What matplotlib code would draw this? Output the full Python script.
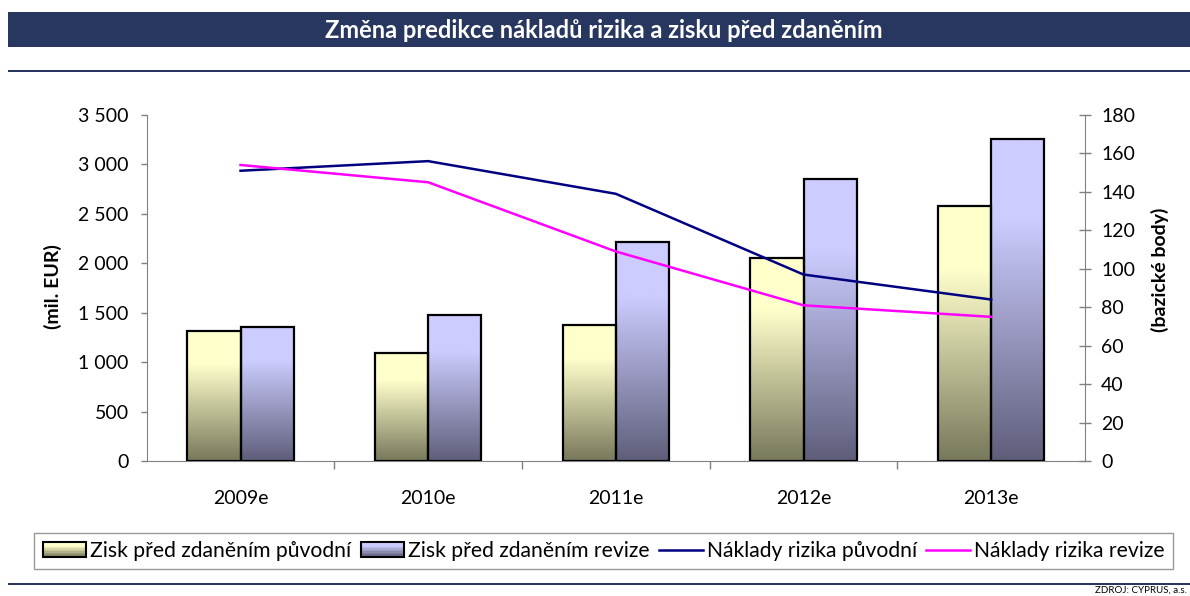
import matplotlib.pyplot as plt
import numpy as np
from matplotlib.colors import LinearSegmentedColormap, to_rgb
from matplotlib.patches import Rectangle, Patch
from matplotlib.lines import Line2D
from matplotlib.legend_handler import HandlerBase
from matplotlib.ticker import FuncFormatter, FixedLocator

plt.rcParams['font.family'] = ['Lato', 'DejaVu Sans']

years = ['2009e', '2010e', '2011e', '2012e', '2013e']
zisk_puvodni = [1310, 1090, 1380, 2050, 2580]   # mil. EUR
zisk_revize = [1360, 1480, 2220, 2850, 3260]
naklady_puvodni = [151, 156, 139, 97, 84]        # bazicke body
naklady_revize = [154, 145, 109, 81, 75]

yellow_top, yellow_bot = '#FFFFCC', '#78785B'
blue_top, blue_bot = '#CCCCFF', '#5E5E7A'
navy = '#27375F'
grey = '#808080'

fig = plt.figure(figsize=(11.9, 5.96), dpi=100)

# header band and separator lines
fig.patches.append(Rectangle((8/1190, 1 - 47/596), 1, 35/596, transform=fig.transFigure,
                             facecolor=navy, edgecolor='none'))
fig.patches.append(Rectangle((8/1190, 1 - 72/596), 1, 2.5/596, transform=fig.transFigure,
                             facecolor=navy, edgecolor='none'))
fig.patches.append(Rectangle((8/1190, 1 - 585/596), 1, 2.5/596, transform=fig.transFigure,
                             facecolor=navy, edgecolor='none'))
fig.text(604/1190, 1 - 30/596, 'Změna predikce nákladů rizika a zisku před zdaněním',
         color='white', fontsize=17, fontweight='bold', ha='center', va='center')

ax = fig.add_axes([146.7/1190, 135/596, 938.3/1190, 346/596])
ax2 = ax.twinx()

x = np.arange(len(years))
w = 0.283


def grad_cmap(top, bot):
    return LinearSegmentedColormap.from_list('g', [(0, bot), (0.75, top), (1, top)])


def gradient_bars(xs, vals, top, bot):
    bars = ax.bar(xs, vals, w, facecolor='none', edgecolor='black', linewidth=1.6, zorder=3)
    cmap = grad_cmap(top, bot)
    grad = np.linspace(0, 1, 256).reshape(-1, 1)
    for b in bars:
        x0, h = b.get_x(), b.get_height()
        im = ax.imshow(grad, cmap=cmap, origin='lower', aspect='auto',
                       extent=[x0, x0 + b.get_width(), 0, h], zorder=2)
        im.set_clip_path(b)
    return bars


gradient_bars(x - w/2, zisk_puvodni, yellow_top, yellow_bot)
gradient_bars(x + w/2, zisk_revize, blue_top, blue_bot)

ax2.plot(x, naklady_puvodni, color='#000080', linewidth=1.8)
ax2.plot(x, naklady_revize, color='#FF00FF', linewidth=1.8)

ax.set_xlim(-0.5, len(years) - 0.5)
ax.set_ylim(0, 3500)
ax2.set_ylim(0, 180)
ax.set_yticks(np.arange(0, 3501, 500))
ax.yaxis.set_major_formatter(FuncFormatter(lambda v, p: f'{int(v):,}'.replace(',', ' ')))
ax2.set_yticks(np.arange(0, 181, 20))

ax.set_xticks(x)
ax.set_xticklabels(years)
ax.xaxis.set_minor_locator(FixedLocator(np.arange(0.5, len(years) - 1, 1)))
ax.tick_params(axis='x', which='major', length=0, pad=21, labelsize=14)
ax.tick_params(axis='x', which='minor', length=6, width=1, color=grey, direction='out')
ax.tick_params(axis='y', length=4, width=1, color=grey, pad=9, labelsize=14)
ax2.tick_params(axis='y', length=9, width=1, color=grey, direction='inout', pad=7, labelsize=14)

for a in (ax, ax2):
    a.spines['top'].set_visible(False)
    for s in ('left', 'right', 'bottom'):
        a.spines[s].set_color(grey)
ax.spines['right'].set_visible(False)
ax2.spines['left'].set_visible(False)
ax2.spines['bottom'].set_visible(False)
ax.set_facecolor('none')

fig.text(53/1190, 1 - 287/596, '(mil. EUR)', rotation=90, fontsize=14, fontweight='bold',
         ha='center', va='center')
fig.text(1160/1190, 1 - 270/596, '(bazické body)', rotation=90, fontsize=14, fontweight='bold',
         ha='center', va='center')


class GradHandler(HandlerBase):
    def __init__(self, top, bot):
        super().__init__()
        self.top, self.bot = np.array(to_rgb(top)), np.array(to_rgb(bot))

    def create_artists(self, legend, orig_handle, xdescent, ydescent, width, height, fontsize, trans):
        arts = []
        n = 10
        for i in range(n):
            t = min(1, i / (n - 1) / 0.8)
            c = self.bot + (self.top - self.bot) * t
            arts.append(Rectangle((-xdescent, -ydescent + height * i / n), width, height / n,
                                  facecolor=c, edgecolor='none', transform=trans))
        arts.append(Rectangle((-xdescent, -ydescent), width, height, fill=False,
                              edgecolor='black', linewidth=1.5, transform=trans))
        return arts


h1 = Patch()
h2 = Patch()
h3 = Line2D([], [], color='#000080', linewidth=1.8)
h4 = Line2D([], [], color='#FF00FF', linewidth=1.8)
leg = fig.legend([h1, h2, h3, h4],
                 ['Zisk před zdaněním původní', 'Zisk před zdaněním revize',
                  'Náklady rizika původní', 'Náklady rizika revize'],
                 handler_map={h1: GradHandler(yellow_top, yellow_bot),
                              h2: GradHandler(blue_top, blue_bot)},
                 loc='center', bbox_to_anchor=(603.5/1190, 1 - 551/596), ncol=4,
                 fontsize=15.2, frameon=True, fancybox=False, edgecolor=grey,
                 handlelength=2.05, handleheight=0.7, handletextpad=0.2, columnspacing=0.45,
                 borderpad=0.4, borderaxespad=0)
leg.get_frame().set_linewidth(1)

fig.text(1187/1190, 1/596, 'ZDROJ: CYPRUS, a.s.', fontsize=7, ha='right', va='bottom')

fig.savefig('out.png', dpi=100)
